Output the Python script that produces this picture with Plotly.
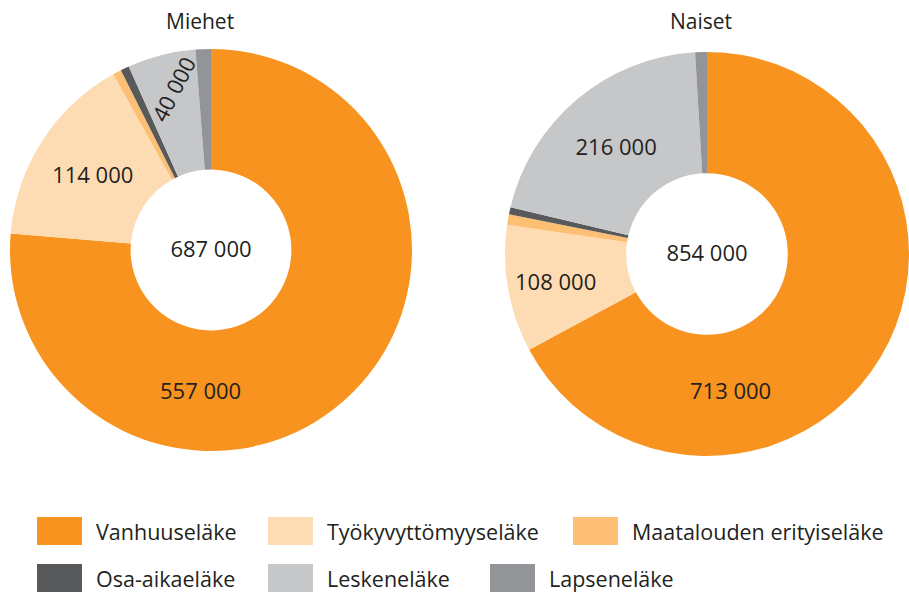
import plotly.graph_objects as go

W, H = 909, 592

categories = ["Vanhuuseläke", "Työkyvyttömyyseläke", "Maatalouden erityiseläke",
              "Osa-aikaeläke", "Leskeneläke", "Lapseneläke"]
groups = ["Miehet", "Naiset"]
men_values = [557000, 114000, 5000, 5000, 40000, 9000]
women_values = [713000, 108000, 9000, 6000, 216000, 10000]
totals = [687000, 854000]
# which slices carry a printed value label
men_labelled = [True, True, False, False, True, False]
women_labelled = [True, True, False, False, True, False]

colors = ["#F7931E", "#FEDCB3", "#FDBF74", "#58595B", "#C6C7C9", "#929497"]
FONT = "Open Sans"
TXT = "#231F20"
NUM_SIZE = 22
LEG_SIZE = 21.5


def fmt(v):
    return f"{v:,}".replace(",", " ")


# pie geometry (pixels)
pies = [dict(cx=211, cy=250, r=201, tx=200), dict(cx=707, cy=254, r=202, tx=701)]
# special label handling: (slice index, dx, dy, angle) relative to pie centre in px
special = [
    [(0, -11, 140, 0), (4, -38, -161, -63)],
    [(0, 23, 136, 0)],
]

fig = go.Figure()
annotations = []
for g, (name, vals, lab, tot, p) in enumerate(zip(groups, [men_values, women_values],
                                                 [men_labelled, women_labelled], totals, pies)):
    spec_idx = {s[0] for s in special[g]}
    texts = [fmt(v) if (l and i not in spec_idx) else "" for i, (v, l) in enumerate(zip(vals, lab))]
    dom_x = [(p["cx"] - p["r"]) / W, min(1.0, (p["cx"] + p["r"]) / W)]
    dom_y = [(H - p["cy"] - p["r"]) / H, (H - p["cy"] + p["r"]) / H]
    fig.add_trace(go.Pie(
        labels=categories, values=vals, text=texts, textinfo="text",
        textposition="inside", insidetextorientation="horizontal",
        sort=False, direction="clockwise", rotation=0, hole=0.4,
        marker=dict(colors=colors, line=dict(width=0)),
        textfont=dict(family=FONT, size=NUM_SIZE, color=TXT),
        domain=dict(x=dom_x, y=dom_y),
        title=dict(text=fmt(tot), position="middle center",
                   font=dict(family=FONT, size=NUM_SIZE, color=TXT)),
        showlegend=False, name=name,
    ))
    annotations.append(dict(text=name, x=p["tx"] / W, y=1 - 21 / H, xref="paper", yref="paper",
                            showarrow=False, font=dict(family=FONT, size=21, color=TXT),
                            xanchor="center", yanchor="middle"))
    for (i, dx, dy, ang) in special[g]:
        annotations.append(dict(text=fmt(vals[i]), x=(p["cx"] + dx) / W, y=1 - (p["cy"] + dy) / H,
                                xref="paper", yref="paper", showarrow=False, textangle=ang,
                                font=dict(family=FONT, size=NUM_SIZE, color=TXT),
                                xanchor="center", yanchor="middle"))

# custom legend
leg_x = [37, 268, 573, 37, 268, 490]
leg_y = [531, 531, 531, 578, 578, 578]
shapes = []
for c, col, lx, ly in zip(categories, colors, leg_x, leg_y):
    shapes.append(dict(type="rect", xref="paper", yref="paper",
                       x0=lx / W, x1=(lx + 45) / W, y0=1 - (ly + 14) / H, y1=1 - (ly - 14) / H,
                       fillcolor=col, line=dict(width=0)))
    annotations.append(dict(text=c, x=(lx + 57) / W, y=1 - ly / H, xref="paper", yref="paper",
                            showarrow=False, xanchor="left", yanchor="middle",
                            font=dict(family=FONT, size=LEG_SIZE, color=TXT)))

fig.update_layout(width=W, height=H, margin=dict(l=0, r=0, t=0, b=0),
                  paper_bgcolor="white", plot_bgcolor="white",
                  annotations=annotations, shapes=shapes)
fig.write_html("out.html", config={"displayModeBar": False},
               post_script="document.body.style.margin='0';document.body.style.overflow='hidden';")
